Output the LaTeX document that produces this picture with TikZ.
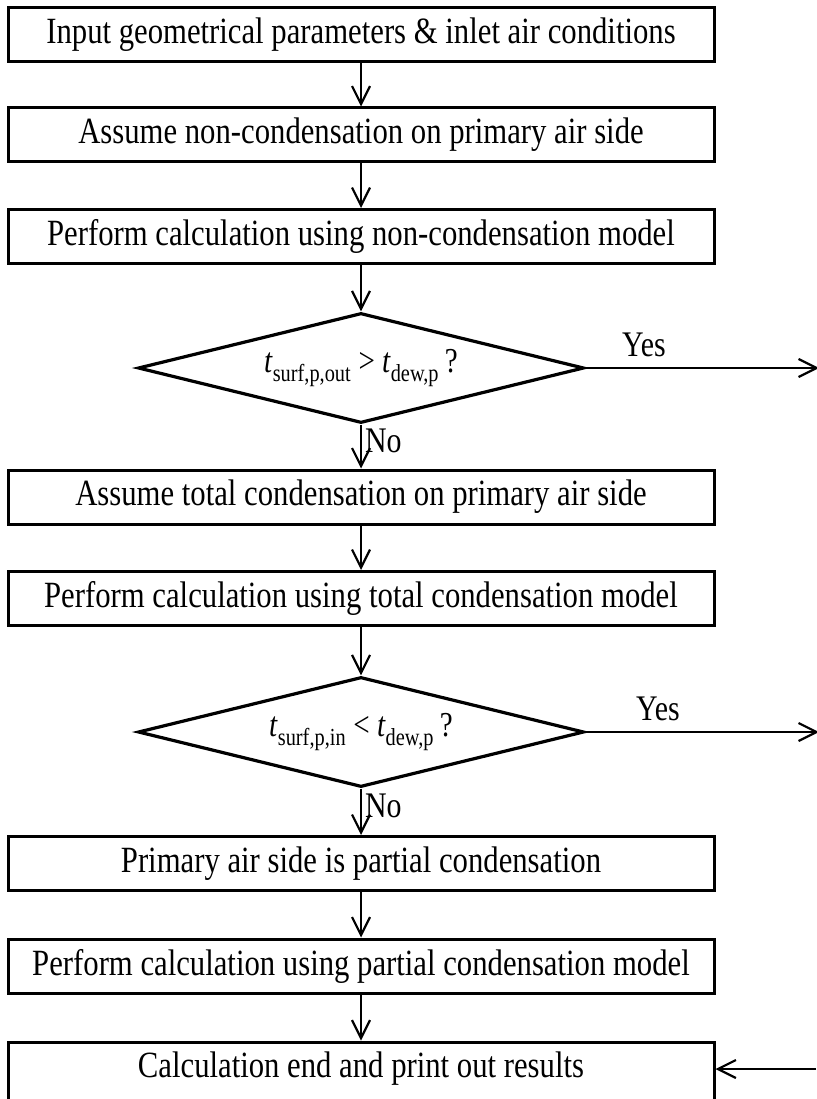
\documentclass[tikz,border=0pt]{standalone}
\usepackage{fontspec}
\setmainfont{Liberation Serif}[FakeStretch=0.83]
\usepackage{tikz}
\usetikzlibrary{
  shapes.geometric,
  arrows.meta,
  positioning
}
\tikzset{
    stepbox/.style={rectangle, draw, line width=3pt, minimum width=706pt, minimum height=54pt, inner sep=0pt, font=\fontsize{37}{40}\selectfont},
    decision/.style={diamond, draw, line width=3.2pt, aspect=4, minimum width=446pt, minimum height=110pt, inner sep=0pt, font=\fontsize{35}{40}\selectfont},
    flow/.style={line width=2.2pt, -{Straight Barb[length=18pt, width=18pt, line width=2.2pt]}},
    answer/.style={font=\fontsize{36}{40}\selectfont, inner sep=0pt}
}

\begin{document}
\begin{tikzpicture}[x=1pt, y=-1pt]
    \useasboundingbox (0,0) rectangle (816,1099);

    % main column
    \node[stepbox] (input) at (361,35) {Input geometrical parameters \& inlet air conditions};
    \node[stepbox] (noncond) at (361,135) {Assume non-condensation on primary air side};
    \node[stepbox] (calcnon) at (361,236.5) {Perform calculation using non-condensation model};
    \node[decision] (checkout) at (361,368) {\textit{t}\textsubscript{surf,p,out} > \textit{t}\textsubscript{dew,p}\,?};
    \node[stepbox] (totalcond) at (361,497) {Assume total condensation on primary air side};
    \node[stepbox] (calctotal) at (361,598.5) {Perform calculation using total condensation model};
    \node[decision] (checkin) at (361,732) {\textit{t}\textsubscript{surf,p,in} < \textit{t}\textsubscript{dew,p}\,?};
    \node[stepbox] (partial) at (361,863.5) {Primary air side is partial condensation};
    \node[stepbox] (calcpartial) at (361,966) {Perform calculation using partial condensation model};
    \node[stepbox, minimum height=60pt] (finish) at (361,1072) {};
    \node[font=\fontsize{37}{40}\selectfont] (finishtext) at (361,1069) {Calculation end and print out results};

    % free ends at the right edge
    \coordinate (yesout) at (819,368);
    \coordinate (yesin) at (819,732);
    \coordinate (back) at (816,1069);

    \draw[flow] (input) -- (noncond);
    \draw[flow] (noncond) -- (calcnon);
    \draw[flow] (calcnon) -- (checkout);
    \draw[flow] (checkout) -- node[answer, right=3pt, pos=0.38] (noout) {No} (totalcond);
    \draw[flow] (totalcond) -- (calctotal);
    \draw[flow] (calctotal) -- (checkin);
    \draw[flow] (checkin) -- node[answer, right=3pt, pos=0.38] (noin) {No} (partial);
    \draw[flow] (partial) -- (calcpartial);
    \draw[flow] (calcpartial) -- (finish);

    \draw[flow] (checkout.east) -- node[answer, above=10pt, pos=0.25] (yesouttext) {Yes} (yesout);
    \draw[flow] (checkin.east) -- node[answer, above=10pt, pos=0.31] (yesintext) {Yes} (yesin);
    \draw[flow] (back) -- (back -| finish.east);
\end{tikzpicture}
\end{document}
